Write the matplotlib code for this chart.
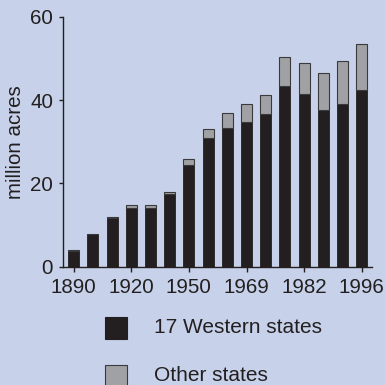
import numpy as np
import matplotlib
matplotlib.use("Agg")
import matplotlib.pyplot as plt
from matplotlib.patches import Rectangle

plt.rcParams["font.family"] = ["Liberation Sans", "DejaVu Sans"]

# one bar per survey year, only some years labelled
years = ["1890", "1900", "1910", "1920", "1930", "1940", "1950", "1959",
         "1964", "1969", "1974", "1978", "1982", "1987", "1992", "1996"]
western = [3.8, 7.8, 11.8, 14.2, 14.2, 17.4, 24.4, 30.8,
           33.4, 34.8, 36.6, 43.3, 41.4, 37.7, 39.1, 42.3]
other = [0.1, 0.1, 0.1, 0.5, 0.5, 0.6, 1.4, 2.3,
         3.6, 4.3, 4.6, 7.0, 7.6, 8.7, 10.3, 11.1]
tick_labels = ["1890", "1920", "1950", "1969", "1982", "1996"]
yticks = [0, 20, 40, 60]

BG = "#c7d2ea"
BLACK = "#231f20"
GRAY = "#a0a1a4"
EDGE = "#3a3a3c"

fig = plt.figure(figsize=(3.85, 3.85), dpi=100, facecolor=BG)
ax = fig.add_axes([0.1644, 0.3073, 0.9655 - 0.1644, 0.9567 - 0.3073])
ax.set_facecolor(BG)

x = np.arange(len(years))
ax.bar(x, western, width=0.57, color=BLACK, edgecolor=BLACK, linewidth=0.6)
ax.bar(x, other, bottom=western, width=0.57, color=GRAY, edgecolor=EDGE, linewidth=0.8)

ax.set_xlim(-0.54, len(years) - 1 + 0.52)
ax.set_ylim(0, 60)
ax.set_yticks(yticks)
tick_pos = [years.index(t) for t in tick_labels]
ax.set_xticks(tick_pos)
ax.set_xticklabels(tick_labels)

for s in ["top", "right"]:
    ax.spines[s].set_visible(False)
for s in ["left", "bottom"]:
    ax.spines[s].set_color("#231f20")
    ax.spines[s].set_linewidth(1.0)
ax.tick_params(axis="both", width=1.0, color="#231f20",
               labelsize=14.8, labelcolor="#231f20")
ax.tick_params(axis="y", length=3.1, pad=4.2)
ax.tick_params(axis="x", length=3.6, pad=4.3)
ax.set_ylabel("million acres", fontsize=14.8, color="#231f20", labelpad=4)

# legend drawn as boxes in figure coords
for i, (col, ec, label) in enumerate([(BLACK, BLACK, "17 Western states"),
                                      (GRAY, EDGE, "Other states")]):
    y0 = 385 - 338.5 - i * 48
    fig.patches.append(Rectangle((105 / 385, y0 / 385), 22 / 385, 22 / 385,
                                 transform=fig.transFigure, facecolor=col,
                                 edgecolor=ec, linewidth=0.8))
    fig.text(154 / 385, (y0 + 11) / 385, label, fontsize=15, color="#231f20",
             va="center", ha="left")

fig.savefig("out.png", dpi=100, facecolor=BG)
